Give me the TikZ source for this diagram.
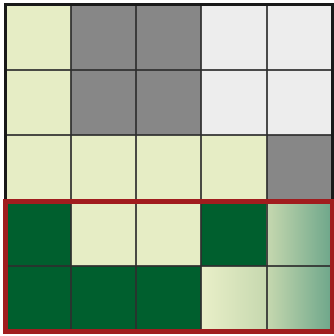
\documentclass[tikz,border=0pt]{standalone}
\begin{document}
\begin{tikzpicture}[x=1bp,y=-1bp]
\definecolor{cy}{HTML}{E6EDC5}
\definecolor{cg}{HTML}{878787}
\definecolor{cw}{HTML}{EDEDED}
\definecolor{cd}{HTML}{005F2E}
\definecolor{ga}{HTML}{E9EFC8}
\definecolor{gb}{HTML}{C6D8AF}
\definecolor{gc}{HTML}{6DA68A}
\definecolor{cred}{HTML}{A11C1E}
\definecolor{cline}{HTML}{2E2E2E}
\tikzset{cellline/.style={draw=cline,line width=2bp,opacity=0.85},
  outerframe/.style={draw=black!90,line width=3bp},
  redframe/.style={draw=cred,line width=4.5bp}}
\useasboundingbox (0,0) rectangle (334,336);
\def\xo{5.5}\def\yo{4}\def\cw{65.3}\def\ch{65.5}
\newcommand{\cellfill}[3]{\fill[#3] ({\xo+#1*\cw},{\yo+#2*\ch}) rectangle ({\xo+(#1+1)*\cw},{\yo+(#2+1)*\ch});}
\newcommand{\cellshade}[4]{\shade[left color=#3,right color=#4] ({\xo+#1*\cw},{\yo+#2*\ch}) rectangle ({\xo+(#1+1)*\cw},{\yo+(#2+1)*\ch});}
% row 0
\cellfill{0}{0}{cy}\cellfill{1}{0}{cg}\cellfill{2}{0}{cg}\cellfill{3}{0}{cw}\cellfill{4}{0}{cw}
% row 1
\cellfill{0}{1}{cy}\cellfill{1}{1}{cg}\cellfill{2}{1}{cg}\cellfill{3}{1}{cw}\cellfill{4}{1}{cw}
% row 2
\cellfill{0}{2}{cy}\cellfill{1}{2}{cy}\cellfill{2}{2}{cy}\cellfill{3}{2}{cy}\cellfill{4}{2}{cg}
% row 3
\cellfill{0}{3}{cd}\cellfill{1}{3}{cy}\cellfill{2}{3}{cy}\cellfill{3}{3}{cd}\cellshade{4}{3}{gb}{gc}
% row 4
\cellfill{0}{4}{cd}\cellfill{1}{4}{cd}\cellfill{2}{4}{cd}\cellshade{3}{4}{ga}{gb}\cellshade{4}{4}{gb}{gc}
% grid lines
\foreach \i in {1,2,3,4} {
  \draw[cellline] ({\xo+\i*\cw},\yo) -- ({\xo+\i*\cw},{\yo+5*\ch});
  \draw[cellline] (\xo,{\yo+\i*\ch}) -- ({\xo+5*\cw},{\yo+\i*\ch});
}
\draw[outerframe] (\xo,\yo) rectangle ({\xo+5*\cw},{\yo+5*\ch});
\draw[redframe] (\xo,{\yo+3*\ch+1}) rectangle ({\xo+5*\cw},{\yo+5*\ch});
\end{tikzpicture}
\end{document}
